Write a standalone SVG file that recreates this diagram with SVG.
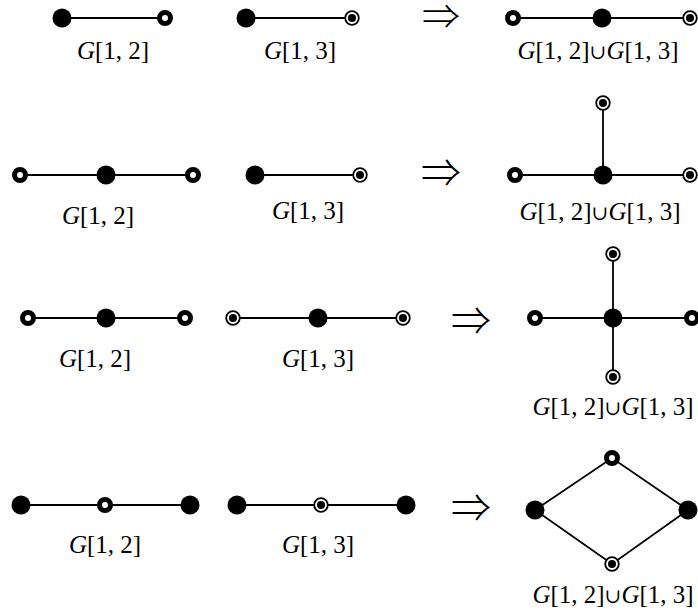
<svg xmlns="http://www.w3.org/2000/svg" width="698" height="611" viewBox="0 0 698 611">
<style>
.e{stroke:#000;stroke-width:1.8;fill:none}
.f{fill:#000}
.r{fill:#fff;stroke:#000;stroke-width:5}
.t{fill:#fff;stroke:#000;stroke-width:1.8}
.lab{font-family:"Liberation Serif",serif;font-size:25px;fill:#000;text-anchor:middle}
.lab .i{font-style:italic}
.lab .u{font-family:"DejaVu Serif",serif;font-size:20px}
.arr{font-family:"Noto Sans CJK JP","DejaVu Sans",sans-serif;font-weight:300;font-size:40px;fill:#000;text-anchor:middle}
</style>
<defs>
<g id="filled"><circle r="9.5" class="f"/></g>
<g id="ring"><circle r="5.5" class="r"/></g>
<g id="target"><circle r="6.8" class="t"/><circle r="4" class="f"/></g>
</defs>
<g id="connectors">
<line class="e" x1="62" y1="18" x2="165" y2="18"/>
<line class="e" x1="246" y1="18" x2="352" y2="18"/>
<line class="e" x1="513" y1="18" x2="690" y2="18"/>
<line class="e" x1="20" y1="175" x2="193" y2="175"/>
<line class="e" x1="255" y1="175" x2="360" y2="175"/>
<line class="e" x1="515" y1="175" x2="690" y2="175"/>
<line class="e" x1="603" y1="103" x2="603" y2="175"/>
<line class="e" x1="28" y1="318" x2="185" y2="318"/>
<line class="e" x1="233" y1="318" x2="403" y2="318"/>
<line class="e" x1="535" y1="318" x2="692" y2="318"/>
<line class="e" x1="613" y1="254" x2="613" y2="377"/>
<line class="e" x1="21" y1="505" x2="190" y2="505"/>
<line class="e" x1="237" y1="505" x2="406" y2="505"/>
<polygon class="e" points="535,510 612,458 688,510 612,564"/>
</g>
<g id="row1">
<use href="#filled" x="62" y="18"/><use href="#ring" x="165" y="18"/>
<use href="#filled" x="246" y="18"/><use href="#target" x="352" y="18"/>
<use href="#ring" x="513" y="18"/><use href="#filled" x="602" y="18"/><use href="#target" x="690" y="18"/>
<text class="lab" x="113" y="59"><tspan class="i">G</tspan>[1, 2]</text>
<text class="lab" x="300" y="59"><tspan class="i">G</tspan>[1, 3]</text>
<text class="arr" x="441" y="29" style="font-size:34px" textLength="38" lengthAdjust="spacingAndGlyphs">⇒</text>
<text class="lab" x="598" y="59"><tspan class="i">G</tspan>[1, 2]<tspan class="u">∪</tspan><tspan class="i">G</tspan>[1, 3]</text>
</g>
<g id="row2">
<use href="#ring" x="20" y="175"/><use href="#filled" x="106" y="175"/><use href="#ring" x="193" y="175"/>
<use href="#filled" x="255" y="175"/><use href="#target" x="360" y="175"/>
<use href="#ring" x="515" y="175"/><use href="#filled" x="603" y="175"/><use href="#target" x="690" y="175"/><use href="#target" x="603" y="103"/>
<text class="lab" x="98" y="224"><tspan class="i">G</tspan>[1, 2]</text>
<text class="lab" x="308" y="219"><tspan class="i">G</tspan>[1, 3]</text>
<text class="arr" x="441" y="187">⇒</text>
<text class="lab" x="600" y="220"><tspan class="i">G</tspan>[1, 2]<tspan class="u">∪</tspan><tspan class="i">G</tspan>[1, 3]</text>
</g>
<g id="row3">
<use href="#ring" x="28" y="318"/><use href="#filled" x="106" y="318"/><use href="#ring" x="185" y="318"/>
<use href="#target" x="233" y="318"/><use href="#filled" x="318" y="318"/><use href="#target" x="403" y="318"/>
<use href="#ring" x="535" y="318"/><use href="#filled" x="613" y="318"/><use href="#ring" x="692" y="318"/><use href="#target" x="613" y="254"/><use href="#target" x="613" y="377"/>
<text class="lab" x="95" y="367"><tspan class="i">G</tspan>[1, 2]</text>
<text class="lab" x="318" y="367"><tspan class="i">G</tspan>[1, 3]</text>
<text class="arr" x="471" y="335">⇒</text>
<text class="lab" x="613" y="415"><tspan class="i">G</tspan>[1, 2]<tspan class="u">∪</tspan><tspan class="i">G</tspan>[1, 3]</text>
</g>
<g id="row4">
<use href="#filled" x="21" y="505"/><use href="#ring" x="105" y="505"/><use href="#filled" x="190" y="505"/>
<use href="#filled" x="237" y="505"/><use href="#target" x="321" y="505"/><use href="#filled" x="406" y="505"/>
<use href="#filled" x="535" y="510"/><use href="#ring" x="612" y="458"/><use href="#filled" x="688" y="510"/><use href="#target" x="612" y="564"/>
<text class="lab" x="105" y="553"><tspan class="i">G</tspan>[1, 2]</text>
<text class="lab" x="318" y="553"><tspan class="i">G</tspan>[1, 3]</text>
<text class="arr" x="471" y="522">⇒</text>
<text class="lab" x="613" y="603"><tspan class="i">G</tspan>[1, 2]<tspan class="u">∪</tspan><tspan class="i">G</tspan>[1, 3]</text>
</g>
</svg>
